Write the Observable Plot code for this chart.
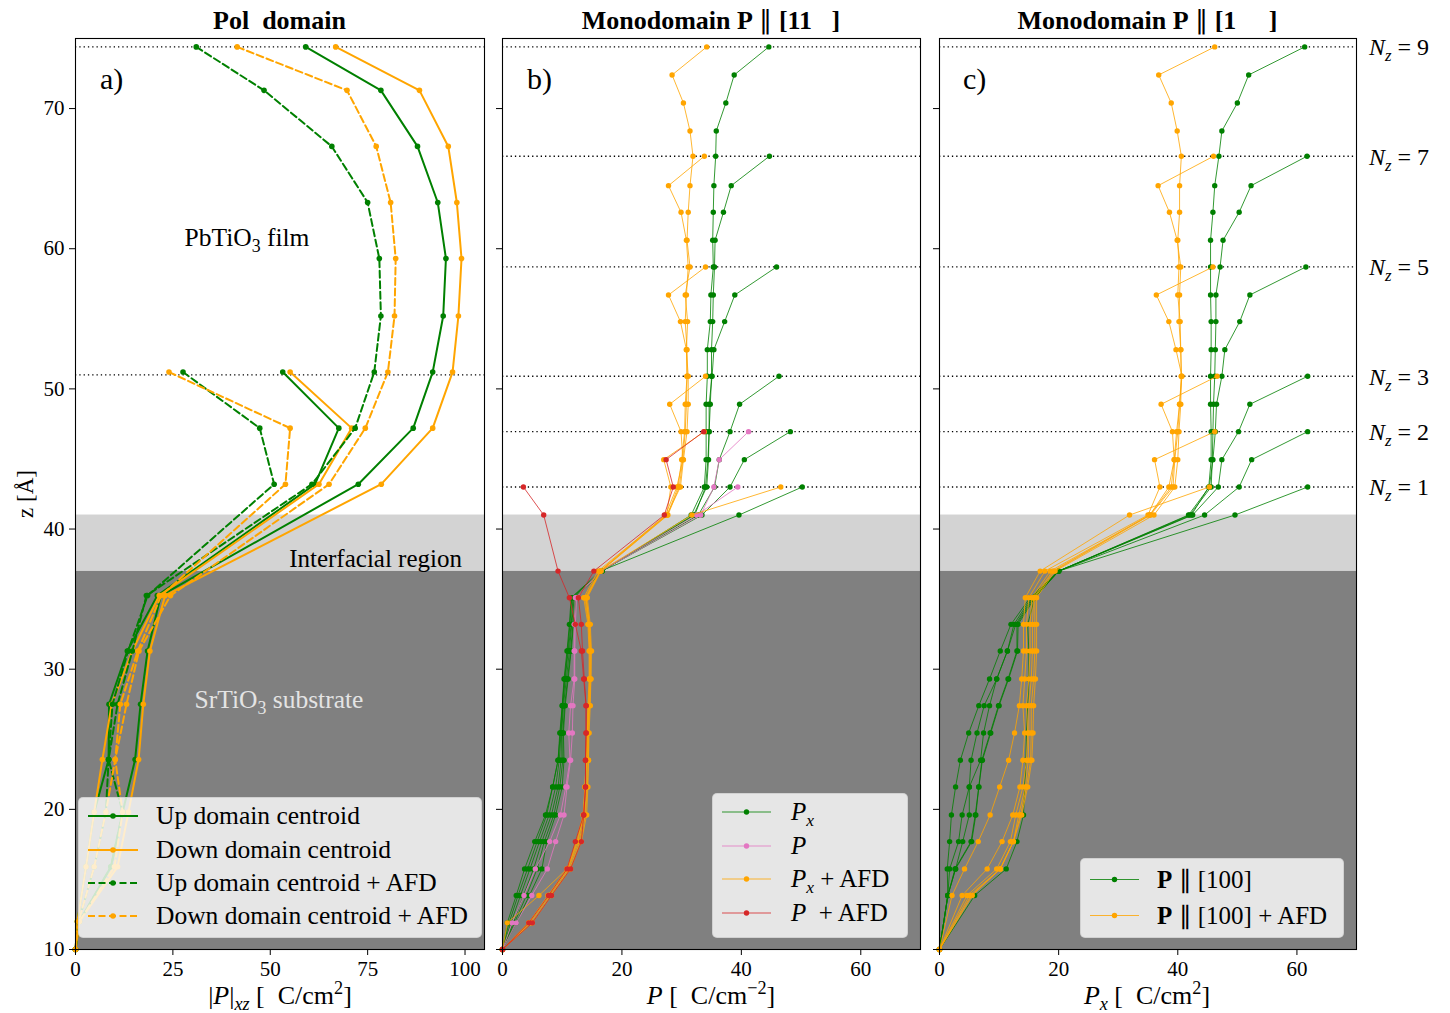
<!DOCTYPE html>
<html><head><meta charset="utf-8">
<script src="https://cdn.jsdelivr.net/npm/d3@7"></script>
<script src="https://cdn.jsdelivr.net/npm/@observablehq/plot@0.6"></script>
<style>
body{margin:0;background:#fff;}
#fig{position:relative;width:1450px;height:1013px;overflow:hidden;font-family:"Liberation Serif",serif;color:#000;}
#fig svg text{font-family:"Liberation Serif",serif !important;}
.t{position:absolute;white-space:nowrap;line-height:1;}
.c{transform:translate(-50%,-50%);}
.l{transform:translate(0,-50%);}
.r{transform:translate(-100%,-50%);}
sub,sup{line-height:0;font-size:70%;}
.leg{position:absolute;background:rgba(255,255,255,0.8);border:1px solid rgba(204,204,204,0.8);border-radius:5px;box-sizing:border-box;}
.leg .row{position:absolute;left:0;display:flex;align-items:center;white-space:nowrap;transform:translateY(-50%);}
</style></head>
<body><div id="fig"></div>
<script>
// ---------- data ----------
const yTicks = [10, 20, 30, 40, 50, 60, 70];
const xTicksA = [0, 25, 50, 75, 100];
const xTicksBC = [0, 20, 40, 60];

// regions (z ranges, Å)
const regionBottom = [10, 37];
const regionTop = [37, 41];

// panel a z grid (unit-cell centroids)
const zA = [74.4, 71.3, 67.3, 63.3, 59.3, 55.2, 51.2, 47.2, 43.2, 35.25, 31.3, 27.5, 23.55, 19.8, 15.9, 12.0, 10.0];
const aTops = [74.4, 51.2];           // Nz = 9, Nz = 3
const aDotted = [74.4, 51.0];
const aUp = [
  [59.1, 78.4, 87.8, 93.0, 95.1, 94.4, 91.7, 86.7, 72.6, 21.9, 18.5, 16.7, 15.3, 12.1, 9.1, 1.0, 0],
  [53.2, 67.6, 61.5, 21.0, 13.3, 8.6, 8.5, 4.8, 2.7, 0.5, 0]
];
const aDown = [
  [66.8, 88.3, 95.7, 97.9, 99.1, 98.3, 96.8, 91.7, 78.5, 23.0, 19.1, 17.4, 16.2, 13.6, 10.8, 1.0, 0],
  [55.1, 70.9, 62.5, 21.5, 14.6, 9.3, 6.9, 4.8, 2.7, 0.5, 0]
];
const aUpAfd = [
  [31.0, 48.4, 65.8, 75.0, 78.0, 78.4, 76.7, 71.8, 60.7, 18.2, 14.6, 10.8, 8.5, 7.8, 4.8, 0.8, 0],
  [27.6, 47.3, 51.0, 18.5, 13.5, 9.5, 8.5, 12.1, 9.1, 1.0, 0]
];
const aDownAfd = [
  [41.5, 69.7, 77.2, 80.9, 82.2, 81.9, 80.2, 74.4, 65.1, 24.4, 16.3, 13.1, 10.2, 7.8, 4.8, 0.8, 0],
  [24.0, 55.1, 53.9, 22.0, 16.0, 11.5, 10.2, 12.1, 10.0, 1.0, 0]
];

// panels b, c: atomic-plane z grid
const zGrid = [74.4, 72.4, 70.4, 68.4, 66.6, 64.5, 62.6, 60.6, 58.7, 56.7, 54.8, 52.8, 50.9, 48.9, 46.95, 44.95, 43.0, 41.0, 37.0, 35.1, 33.2, 31.3, 29.3, 27.4, 25.45, 23.5, 21.6, 19.6, 17.7, 15.75, 13.85, 11.9, 10.0];
const zGridC = [74.4, 72.4, 70.4, 68.4, 66.6, 64.5, 62.6, 60.6, 58.7, 56.7, 54.8, 52.8, 50.9, 48.9, 46.95, 44.95, 43.0, 41.0, 37.0, 35.1, 33.2, 31.3, 29.3, 27.4, 25.45, 23.5, 21.6, 19.6, 17.7, 15.75, 13.85, 10.0];
const nzList = [9, 7, 5, 3, 2, 1];
const nzTops = [74.4, 66.6, 58.7, 50.9, 46.95, 43.0];

// panel b: Monodomain P || [11 ]
const bPx = [
  [44.6, 38.8, 37.4, 35.8, 35.7, 35.4, 35.3, 35.2, 35.3, 34.9, 34.8, 34.3, 34.3, 34.1, 34.1, 34.1, 33.8, 31.6, 16.7, 12.3, 11.9, 11.5, 11.0, 10.5, 10.2, 10.3, 10.0, 8.9, 7.4, 6.6, 4.5, 2.3, 0],
  [44.7, 38.3, 37.0, 35.6, 35.5, 35.3, 35.2, 35.0, 35.0, 34.8, 34.6, 34.5, 34.2, 32.0, 16.7, 12.2, 11.8, 11.4, 10.9, 10.4, 10.1, 10.1, 9.6, 8.6, 7.0, 5.8, 4.0, 2.0, 0],
  [45.9, 38.9, 37.2, 35.4, 35.1, 34.6, 34.6, 34.4, 34.0, 32.2, 16.6, 12.0, 11.6, 11.2, 10.7, 10.2, 9.9, 9.8, 9.3, 8.2, 6.6, 5.2, 3.5, 1.8, 0],
  [46.3, 39.7, 38.1, 36.3, 35.5, 32.8, 16.5, 11.8, 11.5, 11.0, 10.5, 10.1, 9.8, 9.5, 8.9, 7.8, 6.2, 4.6, 3.0, 1.4, 0],
  [48.2, 40.5, 38.1, 33.4, 16.5, 11.6, 11.3, 10.9, 10.4, 10.0, 9.7, 9.3, 8.4, 7.4, 5.8, 4.2, 2.6, 1.1, 0],
  [50.2, 39.6, 16.4, 11.5, 11.2, 10.8, 10.3, 10.0, 9.6, 9.3, 8.4, 7.2, 5.4, 3.7, 2.3, 0.8, 0]
];
const bPnz = [2, 1];
const bP = [
  [41.2, 36.3, 35.4, 33.2, 16.5, 12.4, 12.2, 12.1, 12.1, 11.8, 11.7, 11.4, 10.8, 10.3, 8.9, 7.5, 4.9, 2.3, 0],
  [39.4, 32.5, 16.3, 12.2, 12.0, 12.0, 12.0, 11.4, 11.1, 11.3, 10.6, 9.7, 7.9, 5.5, 3.6, 1.6, 0]
];
const bPxAfd = [
  [34.2, 28.4, 30.3, 31.4, 31.9, 31.4, 31.1, 30.9, 31.4, 30.6, 31.0, 30.8, 31.1, 31.1, 30.9, 30.3, 29.8, 27.5, 16.4, 14.0, 14.6, 14.8, 14.8, 14.6, 14.4, 14.4, 14.3, 14.1, 13.2, 11.4, 8.2, 5.0, 0],
  [33.8, 27.8, 29.9, 30.8, 31.1, 30.8, 30.6, 30.9, 30.9, 30.8, 30.6, 30.2, 29.6, 27.7, 16.5, 14.2, 14.7, 14.9, 14.8, 14.7, 14.5, 14.4, 14.2, 13.9, 13.0, 11.2, 8.0, 4.7, 0],
  [34.0, 27.8, 29.8, 30.8, 30.9, 30.6, 30.5, 30.0, 29.4, 27.6, 16.4, 14.0, 14.5, 14.7, 14.6, 14.5, 14.3, 14.2, 14.1, 13.8, 12.8, 11.0, 7.8, 4.5, 0],
  [34.0, 28.0, 29.9, 30.2, 29.2, 27.3, 16.3, 13.8, 14.4, 14.6, 14.6, 14.4, 14.2, 14.1, 13.9, 13.6, 12.6, 10.9, 7.7, 4.4, 0],
  [33.8, 27.0, 28.2, 27.5, 16.0, 13.6, 14.3, 14.5, 14.5, 14.3, 14.1, 14.0, 13.8, 13.5, 12.3, 10.8, 7.6, 4.4, 0],
  [46.6, 31.7, 16.4, 14.0, 14.5, 14.7, 14.7, 14.5, 14.2, 14.0, 13.8, 13.6, 12.5, 10.8, 6.1, 0.8, 0]
];
const bPAfdNz = [2, 1];
const bPAfd = [
  [33.7, 27.4, 28.6, 27.1, 15.3, 12.7, 13.2, 13.4, 13.7, 14.0, 14.0, 13.9, 13.9, 13.6, 12.2, 10.8, 7.7, 4.4, 0],
  [3.5, 6.9, 9.3, 11.2, 12.2, 13.2, 13.6, 14.0, 14.0, 13.9, 13.9, 13.6, 13.2, 11.4, 8.2, 5.0, 0]
];

// panel c: Monodomain P || [1  ]
const cP = [
  [61.3, 51.9, 50.0, 47.4, 46.9, 46.2, 45.9, 45.5, 45.5, 45.5, 45.6, 45.6, 45.5, 45.5, 45.6, 45.6, 45.2, 42.3, 20.0, 15.2, 12.0, 10.2, 8.4, 6.6, 4.9, 3.5, 2.7, 2.0, 1.7, 1.3, 1.4, 0],
  [61.7, 52.3, 50.3, 47.6, 47.1, 46.4, 46.4, 46.3, 46.2, 46.0, 45.9, 45.8, 45.6, 42.0, 20.0, 15.4, 12.5, 11.4, 9.6, 7.5, 6.3, 5.3, 5.0, 3.8, 3.2, 1.7, 1.4, 0],
  [61.5, 52.1, 50.4, 47.9, 47.4, 46.5, 46.3, 45.9, 45.3, 41.8, 20.0, 15.6, 12.8, 11.4, 9.6, 8.4, 7.4, 6.9, 5.0, 5.0, 3.9, 2.7, 1.4, 0],
  [61.8, 52.1, 50.2, 47.4, 46.8, 42.5, 20.0, 15.8, 13.0, 13.0, 11.5, 9.9, 8.5, 7.1, 6.6, 6.1, 5.4, 2.7, 1.4, 0],
  [61.8, 52.4, 50.3, 44.5, 20.0, 16.0, 13.2, 13.1, 11.6, 10.0, 8.6, 7.2, 6.6, 6.0, 5.3, 2.6, 1.4, 0],
  [61.8, 49.6, 20.0, 16.0, 14.8, 15.0, 15.0, 14.8, 14.6, 14.5, 14.3, 14.1, 13.0, 11.2, 5.9, 0]
];
const cPAfd = [
  [46.2, 36.8, 38.9, 39.9, 40.6, 40.3, 40.3, 40.0, 40.2, 40.0, 40.4, 40.5, 40.6, 40.5, 40.2, 40.0, 39.5, 36.0, 19.4, 16.3, 16.3, 16.3, 16.1, 15.8, 15.7, 15.5, 14.8, 13.8, 12.4, 10.2, 5.5, 0],
  [46.0, 36.7, 38.6, 39.9, 40.5, 40.3, 40.2, 40.5, 40.6, 40.3, 40.0, 39.5, 39.2, 35.4, 19.2, 16.0, 16.0, 16.0, 15.8, 15.4, 15.4, 15.3, 14.6, 13.6, 12.4, 10.2, 5.3, 0],
  [45.9, 36.4, 38.5, 39.7, 40.7, 40.3, 39.8, 39.4, 38.9, 35.3, 19.0, 15.8, 15.6, 15.6, 15.4, 15.0, 15.0, 14.9, 14.4, 13.3, 12.4, 10.2, 5.0, 0],
  [46.6, 37.2, 39.1, 39.4, 38.5, 35.3, 18.6, 15.5, 15.2, 15.2, 15.0, 14.6, 14.8, 14.6, 14.0, 12.8, 11.9, 9.6, 4.6, 0],
  [46.2, 36.1, 37.0, 35.0, 17.7, 15.0, 14.6, 14.6, 14.3, 14.0, 14.3, 14.0, 13.5, 12.3, 10.5, 8.0, 3.8, 0],
  [45.3, 31.9, 16.9, 14.4, 14.1, 14.1, 13.8, 13.4, 12.6, 11.6, 10.1, 8.5, 6.5, 4.2, 2.1, 0]
];

// ---------- helpers ----------
const GREEN = "#008000", ORANGE = "#ffa500", PINK = "#e377c2", RED = "#d62728";
const FONT = "Liberation Serif";
const fig = document.getElementById("fig");

function rowsOf(grid, top, values, id) {
  const s = grid.indexOf(top);
  return values.map((x, i) => ({id, x, z: grid[s + i]}));
}
function profile(rows, color, o) {
  return [
    Plot.line(rows, {x: "x", y: "z", z: "id", stroke: color, strokeWidth: o.sw, strokeDasharray: o.dash, strokeOpacity: o.op ?? 1}),
    Plot.dot(rows, {x: "x", y: "z", r: o.r, fill: color, stroke: "none"})
  ];
}
const regionRows = regionBottom.map((b, i) => ({z1: b, z2: regionTop[i]}));
function background() {
  return [
    Plot.rect(regionRows.slice(0, 1), {y1: "z1", y2: "z2", fill: "#808080"}),
    Plot.rect(regionRows.slice(1, 2), {y1: "z1", y2: "z2", fill: "#d3d3d3"})
  ];
}
function panel({left, width, mL, mR, xDomain, xTicks, labels, marks}) {
  const p = Plot.plot({
    width, height: 1013, marginLeft: mL, marginRight: mR, marginTop: 38, marginBottom: 64,
    x: {domain: xDomain}, y: {domain: [10, 75]},
    style: {fontFamily: FONT, fontSize: "21px", background: "transparent", overflow: "visible"},
    marks: [
      ...background(),
      ...marks,
      Plot.axisX({ticks: xTicks, tickSize: 6, tickPadding: 6, label: null, fontSize: 21}),
      Plot.axisY({ticks: yTicks, tickSize: 6, tickPadding: 5, label: null, fontSize: 21,
                  tickFormat: labels ? (d => d) : (() => "")}),
      Plot.frame({stroke: "black", strokeWidth: 1.1})
    ]
  });
  p.style.position = "absolute"; p.style.left = left + "px"; p.style.top = "0px";
  fig.appendChild(p);
  return p;
}
function txt(html, x, y, cls, size, extra = "") {
  const d = document.createElement("div");
  d.className = "t " + cls;
  d.style.left = x + "px"; d.style.top = y + "px"; d.style.fontSize = size + "px";
  d.style.cssText += extra;
  d.innerHTML = html;
  fig.appendChild(d);
  return d;
}
function legend(x, y, w, h, rows, sampleL, sampleW, textL, size) {
  const box = document.createElement("div");
  box.className = "leg";
  Object.assign(box.style, {left: x + "px", top: y + "px", width: w + "px", height: h + "px"});
  for (const r of rows) {
    const row = document.createElement("div");
    row.className = "row";
    row.style.top = r.y + "px";
    row.style.left = sampleL + "px";
    row.style.fontSize = size + "px";
    row.innerHTML = `<svg width="${sampleW}" height="12" style="overflow:visible;margin-right:${textL - sampleL - sampleW}px">
      <line x1="0" x2="${sampleW}" y1="6" y2="6" stroke="${r.color}" stroke-width="${r.sw}" ${r.dash ? `stroke-dasharray="${r.dash}"` : ""} stroke-opacity="${r.op ?? 1}"/>
      <circle cx="${sampleW / 2}" cy="6" r="${r.r}" fill="${r.color}"/></svg><span>${r.html}</span>`;
    box.appendChild(row);
  }
  fig.appendChild(box);
}

// ---------- panel a ----------
const aMarks = [];
const aStyles = [
  [aUp, GREEN, null], [aDown, ORANGE, null], [aUpAfd, GREEN, "7,3.5"], [aDownAfd, ORANGE, "7,3.5"]
];
aStyles.forEach(([set, color, dash], k) => {
  set.forEach((vals, j) => aMarks.push(...profile(rowsOf(zA, aTops[j], vals, `a${k}-${j}`), color, {sw: 2, dash, r: 2.8})));
});
aMarks.unshift(Plot.ruleY(aDotted, {stroke: "black", strokeWidth: 1.3, strokeDasharray: "1.3,3"}));
panel({left: 0, width: 490, mL: 75, mR: 6, xDomain: [0, 105], xTicks: xTicksA, labels: true, marks: aMarks});

// ---------- panel b ----------
const thin = {sw: 1, r: 2.7, op: 0.8};
const bMarks = [Plot.ruleY(nzTops, {stroke: "black", strokeWidth: 1.3, strokeDasharray: "1.3,3"})];
bPx.forEach((v, i) => bMarks.push(...profile(rowsOf(zGrid, nzTops[i], v, "bx" + i), GREEN, thin)));
bP.forEach((v, i) => bMarks.push(...profile(rowsOf(zGrid, nzTops[nzList.indexOf(bPnz[i])], v, "bp" + i), PINK, thin)));
bPxAfd.forEach((v, i) => bMarks.push(...profile(rowsOf(zGrid, nzTops[i], v, "bxa" + i), ORANGE, thin)));
bPAfd.forEach((v, i) => bMarks.push(...profile(rowsOf(zGrid, nzTops[nzList.indexOf(bPAfdNz[i])], v, "bpa" + i), RED, thin)));
panel({left: 490, width: 440, mL: 12, mR: 10, xDomain: [0, 70], xTicks: xTicksBC, labels: false, marks: bMarks});

// ---------- panel c ----------
const cMarks = [Plot.ruleY(nzTops, {stroke: "black", strokeWidth: 1.3, strokeDasharray: "1.3,3"})];
cP.forEach((v, i) => cMarks.push(...profile(rowsOf(zGridC, nzTops[i], v, "cp" + i), GREEN, thin)));
cPAfd.forEach((v, i) => cMarks.push(...profile(rowsOf(zGridC, nzTops[i], v, "cpa" + i), ORANGE, thin)));
const pc = panel({left: 930, width: 520, mL: 9, mR: 94, xDomain: [0, 70], xTicks: xTicksBC, labels: false, marks: cMarks});

// N_z labels from the y scale
const ys = pc.scale("y");
nzList.forEach((n, i) => {
  txt(`<i>N<sub>z</sub></i> = ${n}`, 1369, ys.apply(nzTops[i]) + 1, "l", 24);
});

// ---------- texts ----------
txt("<b>Pol&nbsp; domain</b>", 279.5, 21, "c", 26);
txt("<b>Monodomain P</b> ∥ <b>[11&nbsp;&nbsp;&nbsp;]</b>", 711, 21, "c", 26);
txt("<b>Monodomain P</b> ∥ <b>[1&nbsp;&nbsp;&nbsp;&nbsp;&nbsp;]</b>", 1147.5, 21, "c", 26);
txt("a)", 100, 79, "l", 30);
txt("b)", 527, 79, "l", 30);
txt("c)", 963, 79, "l", 30);
txt("PbTiO<sub>3</sub> film", 247, 238, "c", 25.5);
txt("Interfacial region", 462, 558, "r", 25);
txt("SrTiO<sub>3</sub> substrate", 279, 700, "c", 25.5, "color:#e4e4e4;");
txt("z [Å]", 25, 494, "c", 23, "transform:translate(-50%,-50%) rotate(-90deg);");
txt("|<i>P</i>|<sub><i>xz</i></sub> [&nbsp;&nbsp;C/cm<sup>2</sup>]", 280, 996, "c", 26);
txt("<i>P</i> [&nbsp;&nbsp;C/cm<sup>−2</sup>]", 711, 996, "c", 26);
txt("<i>P<sub>x</sub></i> [&nbsp;&nbsp;C/cm<sup>2</sup>]", 1147, 996, "c", 26);

// ---------- legends ----------
legend(78, 797, 404, 141, [
  {y: 18, color: GREEN, sw: 2, r: 2.8, html: "Up domain centroid"},
  {y: 52, color: ORANGE, sw: 2, r: 2.8, html: "Down domain centroid"},
  {y: 85, color: GREEN, sw: 2, r: 2.8, dash: "7,3.5", html: "Up domain centroid + AFD"},
  {y: 118, color: ORANGE, sw: 2, r: 2.8, dash: "7,3.5", html: "Down domain centroid + AFD"}
], 9, 50, 77, 25.5);
legend(712, 793, 196, 145, [
  {y: 18, color: GREEN, sw: 1, r: 2.7, op: 0.8, html: "<i>P<sub>x</sub></i>"},
  {y: 52, color: PINK, sw: 1, r: 2.7, op: 0.8, html: "<i>P</i>"},
  {y: 85, color: ORANGE, sw: 1, r: 2.7, op: 0.8, html: "<i>P<sub>x</sub></i> + AFD"},
  {y: 119, color: RED, sw: 1, r: 2.7, op: 0.8, html: "<i>P</i>&nbsp;&nbsp;+ AFD"}
], 9, 49, 78, 25);
legend(1080, 858, 264, 80, [
  {y: 20, color: GREEN, sw: 1, r: 2.7, op: 0.8, html: "<b>P</b> ∥ [100]"},
  {y: 56, color: ORANGE, sw: 1, r: 2.7, op: 0.8, html: "<b>P</b> ∥ [100] + AFD"}
], 9, 49, 76, 25);
</script></body></html>
